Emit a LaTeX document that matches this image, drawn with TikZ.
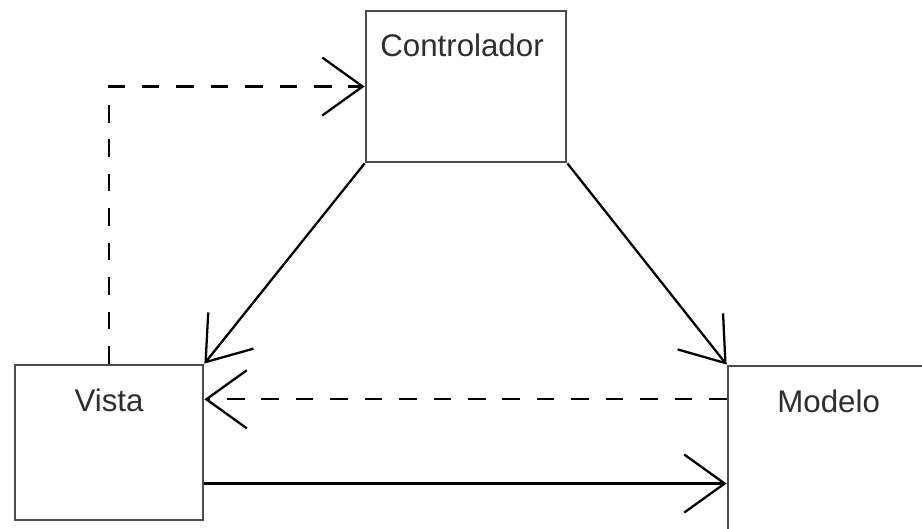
\documentclass[tikz,border=0pt]{standalone}
\usepackage{fontspec}
\setmainfont{Liberation Sans}
\usepackage{xcolor}
\usetikzlibrary{positioning,calc,arrows.meta}

\definecolor{boxgray}{rgb}{0.3,0.3,0.3}
\definecolor{textgray}{rgb}{0.18,0.18,0.18}

\tikzset{
  mvcbox/.style={draw=boxgray, line width=1.6pt, fill=white, inner sep=0pt},
  boxname/.style={text=textgray, font=\fontsize{17.8}{21}\selectfont, inner sep=0pt},
  open/.style={-{Straight Barb[length=23pt,width=33pt,line width=1.3pt]}},
  assoc/.style={open, line width=1.3pt, black},
  dep/.style={assoc, dash pattern=on 10pt off 9.6pt}
}

\begin{document}
\begin{tikzpicture}[x=0.02cm, y=-0.02cm]
  \useasboundingbox (0,0) rectangle (922,528);
  \begin{scope}
    \clip (0,0) rectangle (922,528);
    % the three boxes
    \node[mvcbox, minimum width=4cm, minimum height=3.02cm] (ctrl) at (466,86.5) {};
    \node[mvcbox, minimum width=3.76cm, minimum height=3.1cm] (vista) at (109,442.5) {};
    \node[mvcbox, minimum width=4.64cm, minimum height=3.88cm] (modelo) at (844,463) {};

    \node[boxname] (ctrllbl) at ($(ctrl.north)+(-4,36)$) {Controlador};
    \node[boxname] (vistalbl) at ($(vista.north)+(0,37)$) {Vista};
    \node[boxname] (modelolbl) at ($(modelo.north west)+(102,37)$) {Modelo};

    % points on the right side of the view
    \coordinate (vback) at ($(vista.north east)!0.226!(vista.south east)$);
    \coordinate (vout) at ($(vista.north east)!0.76!(vista.south east)$);

    % connectors
    \draw[dep] (vista.north) |- (ctrl.west);
    \draw[assoc] (ctrl.south west) -- (vista.north east);
    \draw[assoc] (ctrl.south east) -- (modelo.north west);
    \draw[dep] (vback -| modelo.west) -- (vback);
    \draw[assoc] (vout) -- (vout -| modelo.west);
  \end{scope}
\end{tikzpicture}
\end{document}
